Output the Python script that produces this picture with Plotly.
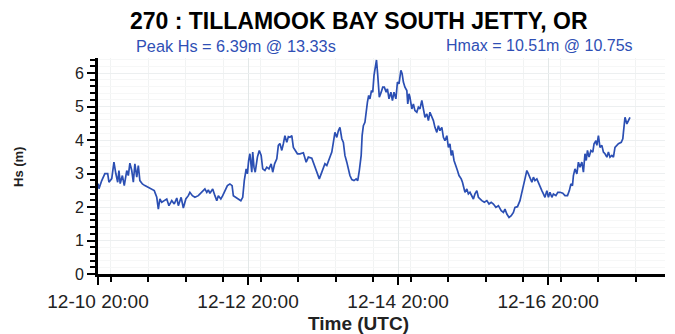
from datetime import datetime, timedelta

import plotly.graph_objects as go

# ---------------------------------------------------------------------------
# Data
# ---------------------------------------------------------------------------

START = datetime(2023, 12, 10, 20, 0)
AXIS_END = datetime(2023, 12, 18, 9, 24)

TITLE = "270 : TILLAMOOK BAY SOUTH JETTY, OR"
PEAK_TEXT = "Peak Hs = 6.39m @ 13.33s"
HMAX_TEXT = "Hmax = 10.51m @ 10.75s"

# hours since 12-10 20:00 UTC
hours = [
    0.0, 0.3, 1.2, 2.2, 3.1, 3.5, 4.4, 5.1, 5.7, 6.3, 6.7, 7.1, 7.8, 8.4, 9.2,
    9.7, 10.2, 10.8, 11.3, 11.8, 12.4, 12.9, 13.4, 14.2, 15.0, 16.1, 17.2, 18.0,
    18.8, 19.3, 19.8, 20.4, 21.2, 22.0, 22.7, 23.6, 24.4, 25.2, 25.7, 26.6, 27.3,
    28.1, 28.9, 29.4, 30.2, 31.0, 32.1,
    32.6, 33.7, 34.2, 34.8, 35.3, 35.8, 36.7, 37.4, 38.0, 38.5, 39.3, 39.9, 40.6,
    41.4, 42.2, 42.9, 43.3, 44.2, 44.9, 45.7, 46.3, 46.8, 47.4, 47.8, 48.2, 48.6,
    49.2, 49.5, 49.9, 50.3, 51.0, 51.6, 52.2, 52.7, 53.4, 54.0, 54.7, 55.4, 55.9,
    56.5, 57.2, 57.7, 58.2, 58.8, 59.3, 59.8, 60.4, 60.9, 61.4, 62.0, 62.5, 63.0,
    63.8,
    64.6, 65.7, 66.6, 67.3, 68.4, 69.1, 70.0, 70.8, 71.4, 72.1, 72.6, 73.2, 74.0,
    74.8, 75.3, 75.8, 76.4, 76.9, 77.4, 78.0, 78.5, 79.0, 79.6, 80.1, 80.6, 81.2,
    81.9, 82.6, 83.1, 83.6, 84.2, 84.5, 84.9, 85.4, 85.8, 86.2, 86.6, 87.0, 87.5,
    87.9, 88.3, 88.7, 89.1, 89.5, 90.0, 90.6, 91.1, 91.6, 92.2, 92.6, 93.1, 93.7,
    94.2, 94.7, 95.3, 95.8, 96.3, 96.9, 97.3, 97.7,
    98.2, 98.8, 99.1, 99.5, 99.8, 100.4, 100.9, 101.4, 102.0, 102.5, 103.0,
    103.6, 104.1, 104.6, 105.2, 105.7, 106.2, 106.8, 107.3, 107.8, 108.4, 108.9,
    109.4, 110.0, 110.5, 111.0, 111.6, 112.1, 112.6, 113.0, 113.4, 113.9, 114.5,
    115.0, 115.5, 116.2, 116.6, 117.0, 117.4, 118.0, 118.5, 119.0, 119.6, 120.1,
    120.6, 121.2, 121.7, 122.2, 122.8, 123.6, 124.4, 125.1, 125.8, 126.5, 127.3,
    128.1, 129.0, 129.7, 130.2, 130.8, 131.5, 132.2, 132.9,
    133.4, 134.2, 135.0, 135.6, 136.1, 136.6, 137.2, 137.7, 138.2, 138.8, 139.3,
    139.8, 140.4, 141.2, 142.0, 142.5, 143.0, 143.6, 144.1, 144.6, 145.2, 145.7,
    146.5, 147.1, 147.8, 148.7, 149.4, 150.2, 150.8, 151.3, 151.8, 152.1, 152.6,
    153.2, 153.7, 154.2, 154.8, 155.3, 155.8, 156.2, 156.6, 157.1, 157.7, 158.3,
    158.7, 159.3, 159.6, 160.1, 160.6, 161.2, 161.7, 162.2, 162.8, 163.3, 163.8,
    164.4, 164.9, 165.4, 166.0, 166.5, 167.4, 167.9, 168.1, 168.6, 169.2, 169.7,
    170.2,
]

hs = [
    2.70, 2.55, 2.79, 3.00, 3.00, 2.74, 2.85, 3.34, 3.00, 2.74, 3.09, 2.70, 2.94,
    2.64, 3.09, 2.94, 3.31, 3.09, 2.74, 3.29, 2.89, 3.24, 2.79, 2.69, 2.64, 2.59,
    2.54, 2.49, 2.29, 1.94, 2.24, 2.14, 2.19, 2.24, 2.04, 2.19, 2.09, 2.27, 2.04,
    2.29, 1.97, 2.24, 2.34, 2.44, 2.34, 2.29, 2.34,
    2.39, 2.49, 2.54, 2.44, 2.51, 2.41, 2.54, 2.34, 2.19, 2.34, 2.24, 2.34, 2.49,
    2.64, 2.69, 2.64, 2.34, 2.29, 2.24, 2.19, 2.29, 2.79, 3.14, 2.99, 3.39, 3.59,
    3.04, 3.64, 3.19, 3.04, 3.49, 3.69, 3.54, 3.14, 3.09, 3.19, 3.14, 3.29, 3.04,
    3.29, 3.44, 3.84, 3.90, 3.69, 3.89, 4.13, 3.93, 4.10, 4.08, 4.13, 3.78, 3.69,
    3.59,
    3.59, 3.62, 3.34, 3.49, 3.46, 3.29, 3.09, 2.84, 2.99, 3.19, 3.29, 3.24, 3.44,
    3.64, 3.93, 4.23, 4.08, 4.28, 4.38, 4.04, 3.93, 3.54, 3.34, 3.14, 2.94, 2.82,
    2.79, 2.84, 2.79, 3.09, 3.54, 4.13, 4.43, 4.53, 4.93, 5.13, 5.33, 5.23, 5.48,
    5.43, 5.93, 6.23, 6.39, 5.93, 5.28, 5.43, 5.58, 5.58, 5.43, 5.53, 5.23, 5.43,
    5.18, 5.43, 5.23, 5.73, 5.68, 6.08, 5.98, 5.73,
    5.58, 5.48, 5.08, 5.38, 5.28, 4.93, 5.08, 4.88, 4.83, 4.98, 4.93, 5.18, 4.93,
    4.68, 4.78, 4.58, 4.83, 4.68, 4.58, 4.38, 4.23, 4.43, 4.28, 4.38, 4.08, 3.98,
    4.13, 3.78, 3.89, 3.54, 3.69, 3.39, 3.19, 3.09, 2.94, 2.84, 2.74, 2.59, 2.44,
    2.54, 2.39, 2.44, 2.34, 2.24, 2.39, 2.49, 2.29, 2.24, 2.19, 2.14, 2.19, 2.09,
    2.14, 2.09, 1.99, 2.04, 1.89, 1.84, 1.94, 1.79, 1.69, 1.74, 1.84,
    1.99, 2.01, 2.19, 2.39, 2.64, 2.84, 3.09, 2.99, 2.89, 2.74, 2.89, 2.79, 2.84,
    2.69, 2.49, 2.39, 2.29, 2.49, 2.29, 2.44, 2.29, 2.39, 2.34, 2.44, 2.44, 2.41,
    2.34, 2.34, 2.49, 2.69, 2.64, 2.94, 3.14, 2.99, 3.34, 3.19, 3.34, 3.04, 3.59,
    3.39, 3.69, 3.49, 3.69, 3.64, 3.89, 3.98, 3.84, 4.13, 3.78, 3.84, 3.64, 3.59,
    3.49, 3.64, 3.49, 3.54, 3.49, 3.78, 3.84, 3.89, 3.93, 4.04, 4.23, 4.68, 4.48,
    4.58, 4.68,
]

times = [START + timedelta(hours=h) for h in hours]

# ---------------------------------------------------------------------------
# Layout helpers
# ---------------------------------------------------------------------------

W, H = 675, 334
M_L, M_R, M_T, M_B = 98, 10, 58, 60
PW, PH = W - M_L - M_R, H - M_T - M_B
FONT = "Liberation Sans, Arial, sans-serif"
BLUE = "#2f4fb5"


def px_x(p):
    return (p - M_L) / PW


def px_y(p):
    return (H - M_B - p) / PH


fig = go.Figure()
fig.add_trace(go.Scatter(
    x=times, y=hs, mode="lines",
    line=dict(color="#2b4fb3", width=1.7),
    hoverinfo="skip", showlegend=False,
))

fig.update_layout(
    width=W, height=H,
    margin=dict(l=M_L, r=M_R, t=M_T, b=M_B),
    paper_bgcolor="white", plot_bgcolor="white",
    font=dict(family=FONT, color="#222"),
    showlegend=False,
)

fig.update_xaxes(
    range=[START, AXIS_END],
    tick0=START, dtick=48 * 3600 * 1000,
    tickformat="%m-%d %H:%M",
    tickfont=dict(size=19, color="#222"),
    ticks="outside", ticklen=8, tickwidth=2, tickcolor="black",
    showline=True, linewidth=3, linecolor="black",
    showgrid=True, gridcolor="#e3e8e8", gridwidth=1,
    minor=dict(dtick=12 * 3600 * 1000, ticks="outside", ticklen=5,
               tickwidth=1.5, tickcolor="black", showgrid=True,
               gridcolor="#f1f3f3"),
    zeroline=False,
)

fig.update_yaxes(
    range=[0, 6.45],
    tick0=0, dtick=1,
    tickfont=dict(size=16, color="#222"),
    ticks="outside", ticklen=8, tickwidth=2, tickcolor="black",
    showline=True, linewidth=3, linecolor="black",
    showgrid=True, gridcolor="#eceff0", gridwidth=1,
    minor=dict(dtick=0.2, ticks="outside", ticklen=5, tickwidth=1.5,
               tickcolor="black", showgrid=True, gridcolor="#f6f7f7"),
    zeroline=False,
)

annotations = [
    dict(text="<b>" + TITLE + "</b>", x=px_x(359), y=px_y(21),
         font=dict(size=23, color="black")),
    dict(text=PEAK_TEXT, x=px_x(236), y=px_y(46),
         font=dict(size=16.3, color=BLUE)),
    dict(text=HMAX_TEXT, x=px_x(539), y=px_y(46),
         font=dict(size=16, color=BLUE)),
    dict(text="<b>Time (UTC)</b>", x=px_x(358), y=px_y(323),
         font=dict(size=19, color="#222")),
    dict(text="<b>Hs (m)</b>", x=px_x(18), y=px_y(167), textangle=-90,
         font=dict(size=13, color="#222")),
]
for a in annotations:
    fig.add_annotation(xref="paper", yref="paper", showarrow=False,
                       xanchor="center", yanchor="middle", **a)

fig.write_html("out.html", config={"displayModeBar": False},
               post_script="document.body.style.margin='0px';")
